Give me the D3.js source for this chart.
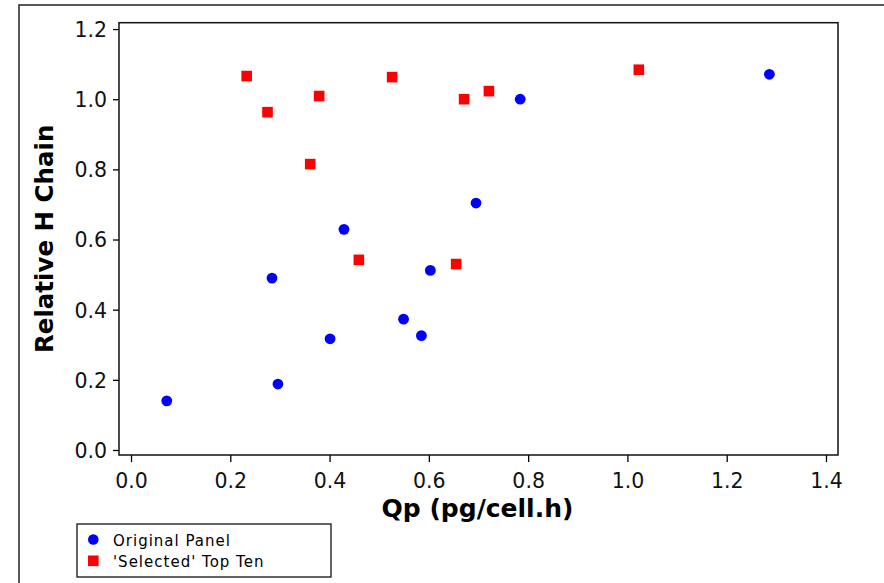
<!DOCTYPE html>
<html>
<head>
<meta charset="utf-8">
<script src="https://cdn.jsdelivr.net/npm/d3@7"></script>
<style>
  html, body { margin: 0; padding: 0; background: #fff; }
  svg { display: block; }
</style>
</head>
<body>
<svg id="chart" width="884" height="583"></svg>
<script>
// ---- data ----
const originalX = [0.072, 0.284, 0.296, 0.401, 0.429, 0.549, 0.585, 0.603, 0.695, 0.784, 1.286];
const originalY = [0.140, 0.490, 0.188, 0.317, 0.629, 0.373, 0.326, 0.512, 0.704, 1.000, 1.071];
const selectedX = [0.233, 0.275, 0.361, 0.379, 0.459, 0.526, 0.655, 0.671, 0.721, 1.023];
const selectedY = [1.066, 0.963, 0.815, 1.009, 0.542, 1.063, 0.530, 1.000, 1.023, 1.084];
const xTicks = [0.0, 0.2, 0.4, 0.6, 0.8, 1.0, 1.2, 1.4];
const yTicks = [0.0, 0.2, 0.4, 0.6, 0.8, 1.0, 1.2];
const seriesNames = ["Original Panel", "'Selected' Top Ten"];
const xTitle = "Qp (pg/cell.h)";
const yTitle = "Relative H Chain";

// ---- layout ----
const svg = d3.select("#chart");
const L = 119, R = 838, T = 22.7, B = 455;
const x = d3.scaleLinear().domain([-0.0242, 1.4242]).range([L, R]);
const y = d3.scaleLinear().domain([-0.0143, 1.2181]).range([B, T]);
const font = "'DejaVu Sans', Verdana, sans-serif";

// outer frame
svg.append("rect")
  .attr("x", 19).attr("y", 5).attr("width", 900).attr("height", 600)
  .attr("fill", "none").attr("stroke", "#222").attr("stroke-width", 1.5);

// x axis
const xAxis = svg.append("g").attr("transform", `translate(0,${B})`)
  .call(d3.axisBottom(x).tickValues(xTicks).tickSize(7).tickSizeOuter(0).tickFormat(d3.format(".1f")));
xAxis.select(".domain").remove();
xAxis.selectAll(".tick line").attr("stroke", "#000").attr("stroke-width", 1.3);
xAxis.selectAll(".tick text").attr("y", 33).attr("dy", 0)
  .attr("font-family", font).attr("font-size", 20.5).attr("fill", "#111");

// y axis
const yAxis = svg.append("g").attr("transform", `translate(${L},0)`)
  .call(d3.axisLeft(y).tickValues(yTicks).tickSize(6).tickSizeOuter(0).tickFormat(d3.format(".1f")));
yAxis.select(".domain").remove();
yAxis.selectAll(".tick line").attr("stroke", "#000").attr("stroke-width", 1.3);
yAxis.selectAll(".tick text").attr("x", -12).attr("dy", "0.36em")
  .attr("font-family", font).attr("font-size", 20.5).attr("fill", "#111");

// plot box
svg.append("rect")
  .attr("x", L).attr("y", T).attr("width", R - L).attr("height", B - T)
  .attr("fill", "none").attr("stroke", "#111").attr("stroke-width", 1.5);

// points
const orig = originalX.map((v, i) => ({x: v, y: originalY[i]}));
const sel = selectedX.map((v, i) => ({x: v, y: selectedY[i]}));

svg.append("g").selectAll("circle").data(orig).join("circle")
  .attr("cx", d => x(d.x)).attr("cy", d => y(d.y)).attr("r", 5.4)
  .attr("fill", "#0000ff");

const sq = 10.6;
svg.append("g").selectAll("rect").data(sel).join("rect")
  .attr("x", d => x(d.x) - sq / 2).attr("y", d => y(d.y) - sq / 2)
  .attr("width", sq).attr("height", sq)
  .attr("fill", "#ff0000");

// axis titles
svg.append("text")
  .attr("x", (L + R) / 2 - 1).attr("y", 517)
  .attr("text-anchor", "middle")
  .attr("font-family", font).attr("font-weight", "bold").attr("font-size", 25)
  .attr("fill", "#000").text(xTitle);

svg.append("text")
  .attr("transform", `translate(53,${(T + B) / 2}) rotate(-90)`)
  .attr("text-anchor", "middle")
  .attr("font-family", font).attr("font-weight", "bold").attr("font-size", 24.5)
  .attr("fill", "#000").text(yTitle);

// legend
const lg = svg.append("g");
lg.append("rect").attr("x", 77).attr("y", 524).attr("width", 254).attr("height", 53)
  .attr("fill", "#fff").attr("stroke", "#111").attr("stroke-width", 1.3);
lg.append("circle").attr("cx", 93.3).attr("cy", 539.5).attr("r", 5.3).attr("fill", "#0000ff");
lg.append("rect").attr("x", 88).attr("y", 555.5).attr("width", 10.6).attr("height", 10.6).attr("fill", "#ff0000");
lg.selectAll("text.lab").data(seriesNames).join("text")
  .attr("class", "lab")
  .attr("x", 113).attr("y", (d, i) => 545.5 + i * 21)
  .attr("font-family", font).attr("font-size", 15).attr("letter-spacing", 1)
  .attr("fill", "#000").text(d => d);
</script>
</body>
</html>
